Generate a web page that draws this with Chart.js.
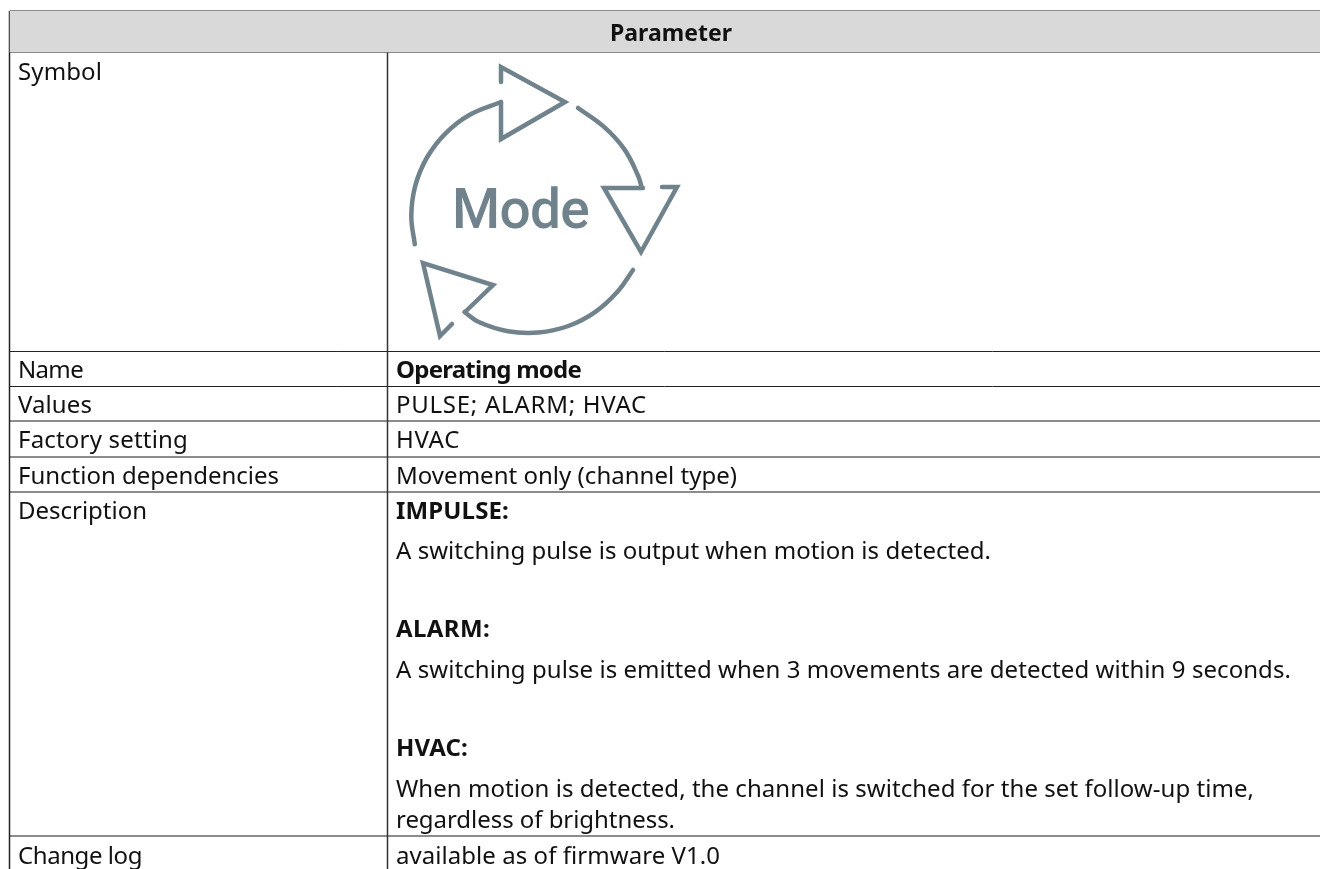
<!DOCTYPE html>
<html>
<head>
<meta charset="utf-8">
<script src="https://cdn.jsdelivr.net/npm/chart.js@4"></script>
<style>
  html, body { margin: 0; padding: 0; background: #fff; }
  canvas { display: block; }
</style>
</head>
<body>
<canvas id="tableChart" width="1320" height="869"></canvas>
<script>
// Contenu du tableau
const headerTitle = 'Parameter';
const rowLabels = ['Symbol', 'Name', 'Values', 'Factory setting', 'Function dependencies', 'Description', 'Change log'];
const valueLines = [
  'Operating mode',
  'PULSE; ALARM; HVAC',
  'HVAC',
  'Movement only (channel type)',
  'IMPULSE:',
  'A switching pulse is output when motion is detected.',
  'ALARM:',
  'A switching pulse is emitted when 3 movements are detected within 9 seconds.',
  'HVAC:',
  'When motion is detected, the channel is switched for the set follow-up time,',
  'regardless of brightness.',
  'available as of firmware V1.0'
];
const boldValues = ['Operating mode', 'IMPULSE:', 'ALARM:', 'HVAC:'];

// Lignes de base du texte, en unites de l'axe y
const labelBaselines = [80, 378, 413, 448, 484, 519, 864];
const valueBaselines = [378, 413, 448, 484, 519, 559, 637, 678, 756, 797, 828, 864];

// Fin de chaque ligne de texte sur l'axe x
const labelEnds = [102, 83, 92, 188, 279, 147, 142];
const valueEnds = [581, 647, 460, 737, 509, 991, 490, 1291, 468, 1254, 675, 720];

// Filets du tableau (axes x et y en pixels de la page)
const tableLeft = 9.5;
const tableRight = 1320;
const tableBottom = 869;
const columnEdge = 387.5;
const headerTop = 11;
const headerBottom = 52;
const rowEdges = [351.5, 386.5, 421, 457, 492, 836];

// Icone "Mode"
const iconArrowA = [[501, 82], [501, 67], [565, 102], [501, 139], [501, 102]];
const iconArcA = [[501, 102], [469.8, 114.7], [445.6, 133.3], [427, 157.5], [415.3, 185.7], [411.3, 216], [414.8, 244.3]];
const iconArcB = [[578, 108], [603.5, 126.4], [624.1, 148.9], [638.2, 176], [641.8, 187.7]];
const iconArrowB = [[643, 188], [604, 188], [641, 252], [677, 187], [662, 187]];
const iconArcC = [[633, 270], [617.9, 291.2], [595.4, 311.8], [568.3, 326], [538.5, 332.5], [507.9, 331.2], [478.8, 322], [464.5, 312]];
const iconArrowC = [[465, 312], [493, 285], [423, 263], [440, 336], [452, 324]];

const toPoints = pts => pts.map(p => ({ x: p[0], y: p[1] }));

function ruleDataset(points, color, width) {
  return { data: toPoints(points), borderColor: color, borderWidth: width, pointRadius: 0, tension: 0, fill: false };
}

function iconDataset(points, tension) {
  return {
    data: toPoints(points), borderColor: '#70838c', borderWidth: 4.5, pointRadius: 0,
    tension: tension, fill: false, borderCapStyle: 'round', borderJoinStyle: 'miter'
  };
}

const datasets = [
  // Fond de l'en-tete
  {
    data: toPoints([[tableLeft, headerBottom], [tableRight, headerBottom]]),
    borderWidth: 0, pointRadius: 0, backgroundColor: '#d9d9d9', fill: { value: headerTop }
  },
  ruleDataset([[tableLeft, headerTop], [tableRight, headerTop]], '#666666', 1.5),
  ruleDataset([[tableLeft, headerBottom], [tableRight, headerBottom]], '#666666', 1.5),
  ruleDataset([[tableLeft, headerTop], [tableLeft, tableBottom]], '#222222', 1.5),
  ruleDataset([[columnEdge, headerBottom], [columnEdge, tableBottom]], '#333333', 1.5),
  ...rowEdges.map(y => ruleDataset([[tableLeft, y], [tableRight, y]], Number.isInteger(y) ? '#666666' : '#222222', Number.isInteger(y) ? 1.5 : 1)),
  iconDataset(iconArrowA, 0),
  iconDataset(iconArcA, 0.4),
  iconDataset(iconArcB, 0.4),
  iconDataset(iconArrowB, 0),
  iconDataset(iconArcC, 0.4),
  iconDataset(iconArrowC, 0)
];

// Ecrit une ligne en ajustant l'espacement pour finir au bon endroit
function drawFitted(ctx, text, startPx, endPx, basePx) {
  ctx.letterSpacing = '0px';
  const spare = (endPx - startPx) - ctx.measureText(text).width;
  ctx.letterSpacing = (spare / text.length).toFixed(3) + 'px';
  ctx.fillText(text, startPx, basePx);
  ctx.letterSpacing = '0px';
}

// Plugin pour ecrire le texte du tableau
const tableText = {
  id: 'tableText',
  afterDatasetsDraw(chart) {
    const { ctx, scales: { x, y } } = chart;
    const family = '"Noto Sans", sans-serif';
    ctx.save();
    ctx.textBaseline = 'alphabetic';
    ctx.textAlign = 'left';
    ctx.fillStyle = '#111111';

    ctx.font = '700 23px ' + family;
    drawFitted(ctx, headerTitle, x.getPixelForValue(610), x.getPixelForValue(732), y.getPixelForValue(41));

    ctx.font = '400 24px ' + family;
    rowLabels.forEach((label, i) => {
      drawFitted(ctx, label, x.getPixelForValue(18), x.getPixelForValue(labelEnds[i]), y.getPixelForValue(labelBaselines[i]));
    });
    valueLines.forEach((line, i) => {
      ctx.font = (boldValues.includes(line) ? '700' : '400') + ' 24px ' + family;
      drawFitted(ctx, line, x.getPixelForValue(396), x.getPixelForValue(valueEnds[i]), y.getPixelForValue(valueBaselines[i]));
    });

    ctx.fillStyle = '#70838c';
    ctx.font = '500 55px Roboto, sans-serif';
    drawFitted(ctx, 'Mode', x.getPixelForValue(452), x.getPixelForValue(589), y.getPixelForValue(228));
    ctx.restore();
  }
};

new Chart(document.getElementById('tableChart').getContext('2d'), {
  type: 'line',
  data: { datasets: datasets },
  plugins: [tableText],
  options: {
    responsive: false,
    animation: false,
    parsing: false,
    normalized: false,
    layout: { padding: 0 },
    plugins: { legend: { display: false }, tooltip: { enabled: false } },
    scales: {
      x: { type: 'linear', min: 0, max: 1320, display: false },
      y: { type: 'linear', min: 0, max: 869, reverse: true, display: false }
    }
  }
});
</script>
</body>
</html>
